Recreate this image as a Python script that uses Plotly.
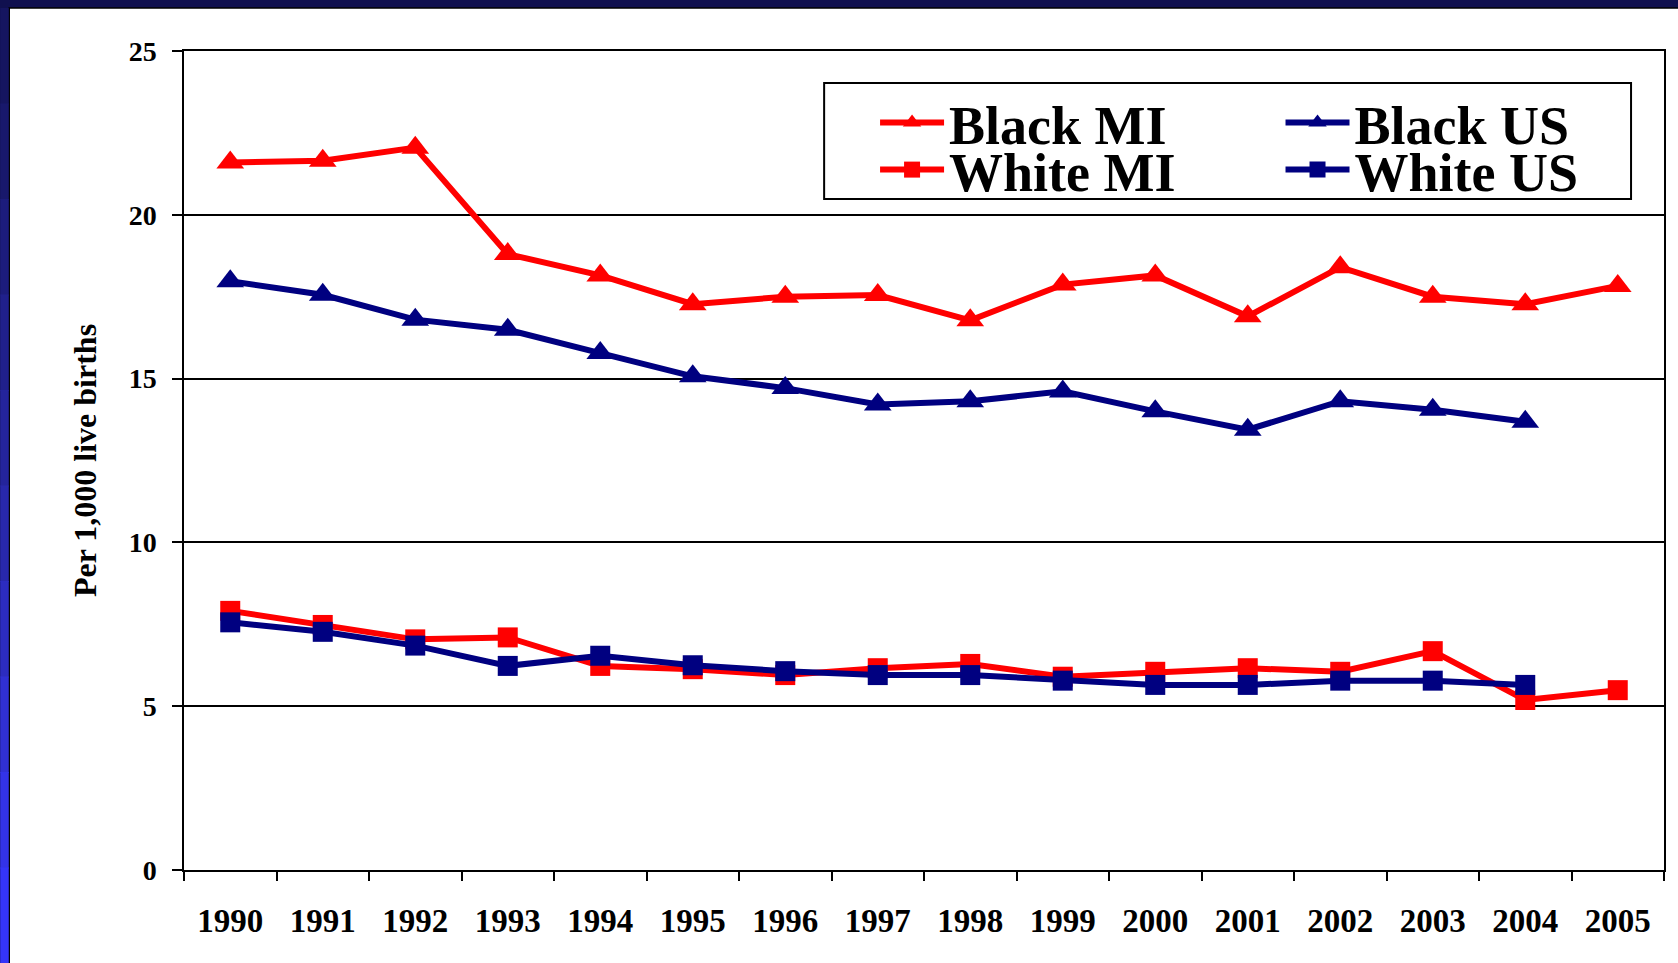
import plotly.graph_objects as go

years = [str(y) for y in range(1990, 2006)]

black_mi = [21.6, 21.65, 22.05, 18.8, 18.15, 17.27, 17.5, 17.55,
            16.78, 17.87, 18.15, 16.9, 18.4, 17.5, 17.27, 17.83]
black_us = [17.97, 17.56, 16.8, 16.49, 15.78, 15.07, 14.71, 14.21,
            14.31, 14.61, 14.0, 13.44, 14.31, 14.05, 13.68, None]
white_mi = [7.91, 7.48, 7.04, 7.1, 6.23, 6.13, 5.95, 6.16,
            6.29, 5.9, 6.05, 6.16, 6.05, 6.68, 5.19, 5.49]
white_us = [7.56, 7.27, 6.85, 6.23, 6.54, 6.25, 6.07, 5.95,
            5.95, 5.78, 5.65, 5.65, 5.78, 5.78, 5.65, None]

RED = "#FF0000"
NAVY = "#000080"
FONT = "Times New Roman, Liberation Serif, serif"

# plot area in pixels of the 1678x963 page
W, H = 1678, 963
L, R, T, B = 184, 1666, 51, 870


def px_x(p):
    return (p - L) / (R - L)


def px_y(p):
    return (B - p) / (B - T)


fig = go.Figure()

# name, values, colour, marker, legend id, legend position (px)
series = [
    ("Black MI", black_mi, RED, "triangle-up", "legend", (876, 123)),
    ("Black US", black_us, NAVY, "triangle-up", "legend2", (1282, 123)),
    ("White MI", white_mi, RED, "square", "legend3", (876, 170)),
    ("White US", white_us, NAVY, "square", "legend4", (1282, 170)),
]
legends = {}
for name, vals, color, symbol, leg, (lx, ly) in series:
    fig.add_trace(go.Scatter(
        x=years, y=vals, name=name, mode="lines+markers",
        line=dict(color=color, width=6),
        marker=dict(symbol=symbol, size=24 if symbol == "triangle-up" else 20,
                    color=color),
        legend=leg, showlegend=True,
    ))
    legends[leg] = dict(
        x=px_x(lx), y=px_y(ly), xanchor="left", yanchor="middle",
        orientation="h", bgcolor="rgba(0,0,0,0)", borderwidth=0,
        itemwidth=64,
        font=dict(family=FONT, size=54, color="black", weight="bold"),
    )

# slide background: white panel over dark navy, blue gradient strip at left
shapes = [
    dict(type="rect", xref="paper", yref="paper",
         x0=px_x(9), x1=px_x(W + 5), y0=px_y(H + 5), y1=px_y(8),
         fillcolor="white", line=dict(color="black", width=1.5), layer="below"),
]
strip_colors = ["#151560", "#18186c", "#1c1c7c", "#20208c", "#24249c",
                "#2828ac", "#2c2cc0", "#3030d4", "#3333e8", "#3535f8"]
band = (H - 8) / len(strip_colors)
for i, c in enumerate(strip_colors):
    shapes.append(dict(type="rect", xref="paper", yref="paper",
                       x0=px_x(0), x1=px_x(8.5),
                       y0=px_y(8 + band * (i + 1) + 1), y1=px_y(8 + band * i),
                       fillcolor=c, line=dict(width=0), layer="below"))
# legend box
shapes.append(dict(type="rect", xref="paper", yref="paper",
                   x0=px_x(825), x1=px_x(1633), y0=px_y(199), y1=px_y(83),
                   fillcolor="rgba(0,0,0,0)", line=dict(color="black", width=2)))

fig.update_layout(
    width=W, height=H,
    margin=dict(l=L, r=W - R, t=T, b=H - B),
    paper_bgcolor="#10104f",
    plot_bgcolor="white",
    font=dict(family=FONT, color="black"),
    shapes=shapes,
    showlegend=True,
    xaxis=dict(
        type="category", range=[-0.5, 15.5],
        tickson="boundaries", ticks="outside", ticklen=9, tickwidth=1.5,
        tickcolor="black", showgrid=False,
        showline=True, linecolor="black", linewidth=2, mirror=True,
        tickfont=dict(family=FONT, size=33, color="black", weight="bold"),
        ticklabelstandoff=20,
    ),
    yaxis=dict(
        range=[0, 25], tickvals=[0, 5, 10, 15, 20, 25],
        ticks="outside", ticklen=10, tickwidth=1.5, tickcolor="black",
        showgrid=True, gridcolor="black", gridwidth=1.5, zeroline=False,
        showline=True, linecolor="black", linewidth=1.5, mirror=True,
        tickfont=dict(family=FONT, size=28, color="black", weight="bold"),
        ticklabelstandoff=10,
        title=dict(text="Per 1,000 live births", standoff=22,
                   font=dict(family=FONT, size=32, color="black", weight="bold")),
    ),
    **legends,
)

# drop the default page margin so the figure fills the window
fig.write_html("out.html", config={"displayModeBar": False},
               post_script="document.body.style.margin='0';")
